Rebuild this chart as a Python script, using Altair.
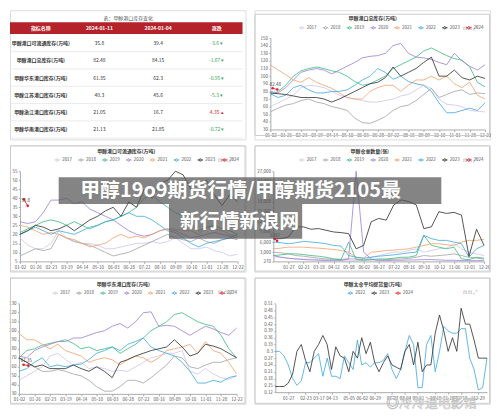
import altair as alt
import pandas as pd

FONT = "Noto Sans CJK SC"

# ---------------- table ----------------
TABLE_TITLE = "表：甲醇港口库存变化"
TABLE_HEADERS = ["指标名称", "2024-01-11", "2024-01-04", "涨跌"]
TABLE_NAMES = ["甲醇港口可流通库存(万吨)", "甲醇港口总库存(万吨)", "甲醇华东港口库存(万吨)",
               "甲醇江苏港口库存(万吨)", "甲醇浙江港口库存(万吨)", "甲醇华南港口库存(万吨)"]
TABLE_0111 = ["35.8", "82.48", "61.35", "40.3", "21.05", "21.13"]
TABLE_0104 = ["39.4", "84.15", "62.3", "45.6", "16.7", "21.85"]
TABLE_CHANGE = [-3.6, -1.67, -0.95, -5.3, 4.35, -0.72]

# ---------------- common ----------------
YEARS = ["2017", "2018", "2019", "2020", "2021", "2022", "2023", "2024"]
COLORS = ["#cdc6ee", "#a3a3a3", "#3dba80", "#9b7fd6", "#f2a06a", "#3ea8e0", "#2d2d2d", "#dd2229"]
X_LABELS_A = ["01-02", "01-26", "02-23", "03-19", "04-14", "05-10", "06-03", "06-28",
              "07-22", "08-16", "09-09", "10-10", "11-01", "11-28", "12-22"]
X_LABELS_B = ["01-27", "02-21", "03-18", "04-12", "05-08", "06-02", "06-27", "07-22",
              "08-16", "09-10", "10-12", "11-06", "12-01", "12-26"]
X_LABELS_C = ["01-27", "02-23", "03-17", "04-13", "05-05", "06-02", "06-29", "07-27",
              "08-24", "09-21", "10-19", "11-16", "12-14", "12-29"]
X_POS_C = [3, 7, 10, 13, 17, 20, 23, 27, 30, 33, 37, 40, 43, 47]

# ---------------- chart 1: 甲醇港口总库存 ----------------
TITLE1 = "甲醇港口总库存(万吨)"
S1 = {
    "2017": [60, 65, 70, 75, 85, 88, 87, 85, 80, 75, 72, 70, 68, 66, 66, 68, 70, 74, 76, 82, 88, 84, 70, 63, 62, 60, 55, 54, 53],
    "2018": [53, 58, 62, 64, 68, 70, 66, 64, 60, 58, 55, 45, 39, 38, 42, 47, 55, 60, 62, 68, 76, 84, 72, 76, 80, 82, 76, 78, 77],
    "2019": [75, 80, 88, 100, 107, 110, 112, 110, 107, 105, 100, 93, 88, 90, 95, 100, 110, 115, 120, 125, 133, 137, 132, 127, 123, 121, 112, 92, 86],
    "2020": [80, 78, 85, 95, 105, 108, 110, 108, 103, 108, 113, 118, 124, 126, 127, 130, 140, 143, 130, 125, 124, 122, 118, 115, 130, 120, 113, 108, 115],
    "2021": [115, 108, 102, 95, 92, 98, 92, 88, 84, 78, 72, 70, 70, 80, 85, 88, 88, 80, 88, 95, 95, 100, 95, 100, 90, 85, 92, 75, 70],
    "2022": [77, 72, 75, 85, 88, 82, 78, 78, 80, 80, 82, 88, 95, 100, 110, 105, 96, 100, 93, 90, 88, 80, 65, 52, 52, 55, 58, 55, 65],
    "2023": [78, 77, 76, 74, 72, 72, 72, 70, 66, 70, 75, 80, 85, 90, 92, 98, 112, 100, 105, 110, 118, 125, 100, 100, 108, 98, 95, 100, 97],
    "2024": [84.15, 82.48],
}
X2024_1 = [0.3, 0.9]

# ---------------- chart 2: 甲醇港口可流通库存 ----------------
TITLE2 = "甲醇港口可流通库存(万吨)"
S2 = {
    "2017": [18, 14, 12, 12, 15, 22, 18, 16, 15, 15, 14, 12, 12, 13, 14, 15, 15, 16, 15, 16, 18, 15, 12, 12, 13, 11, 10, 8, 9],
    "2018": [8, 10, 12, 11, 12, 20, 18, 16, 15, 14, 12, 10, 8, 9, 10, 12, 14, 16, 18, 20, 18, 17, 16, 18, 16, 15, 17, 18, 17],
    "2019": [21, 23, 25, 27, 28, 27, 25, 27, 25, 23, 25, 27, 28, 30, 32, 35, 40, 42, 38, 35, 32, 30, 26, 22, 24, 25, 23, 22, 20],
    "2020": [27, 26, 27, 32, 39, 39, 40, 37, 38, 34, 32, 30, 28, 25, 22, 20, 19, 20, 22, 23, 22, 20, 18, 19, 20, 21, 20, 19, 18],
    "2021": [25, 24, 22, 20, 21, 20, 18, 17, 15, 13, 14, 15, 18, 20, 18, 19, 18, 20, 22, 23, 23, 22, 22, 20, 24, 23, 22, 20, 19],
    "2022": [20, 22, 24, 22, 20, 22, 21, 20, 22, 24, 25, 27, 28, 30, 32, 30, 30, 28, 25, 22, 21, 18, 15, 13, 15, 16, 17, 18, 20],
    "2023": [20, 22, 25, 24, 22, 23, 25, 22, 25, 28, 30, 33, 35, 30, 38, 35, 45, 40, 48, 50, 55, 53, 45, 48, 50, 42, 36, 42, 38],
    "2024": [39.4, 35.8],
}
X2024_2 = [0.5, 1.0]

# ---------------- chart 3: 甲醇仓单数量 ----------------
TITLE3 = "甲醇仓单数量(张)"
S3 = {
    "2017": [1500, 1500, 1200, 1000, 1000, 900, 800, 800, 700, 700, 600, 500, 500, 1500, 2000, 2500, 3000, 3000, 3500, 4000, 3000, 3500, 4000, 4200, 5500, 4000, 3000, 2500, 2000],
    "2018": [3000, 2800, 2500, 2000, 1800, 1500, 1200, 1000, 900, 900, 1000, 1000, 800, 700, 700, 800, 900, 1000, 1200, 1500, 2000, 1800, 2000, 2200, 2500, 2000, 1500, 1200, 1000],
    "2019": [2000, 2200, 2500, 2500, 2300, 2000, 1800, 1500, 1000, 800, 6000, 800, 600, 800, 1000, 1000, 1200, 1500, 1500, 2000, 8000, 5000, 4500, 4000, 4500, 1000, 800, 1500, 1200],
    "2020": [2000, 1500, 1200, 1000, 800, 700, 600, 500, 500, 500, 1000, 27000, 3000, 1000, 500, 500, 600, 600, 700, 700, 800, 800, 700, 600, 600, 500, 500, 500, 500],
    "2021": [4000, 4200, 4500, 4500, 4500, 4300, 4200, 4000, 3800, 3500, 3000, 1500, 1200, 3000, 3200, 3500, 3600, 3800, 4000, 4500, 5000, 5500, 5500, 5200, 5000, 6000, 6500, 6500, 6800],
    "2022": [6000, 5800, 5500, 5800, 6200, 6000, 5800, 5500, 5000, 4800, 2000, 1500, 1200, 1500, 1800, 2000, 2200, 2500, 2800, 3000, 8000, 7000, 6500, 6500, 6000, 5500, 1500, 4000, 5000],
    "2023": [7000, 7000, 7500, 10500, 10500, 9800, 10000, 9500, 9000, 8800, 8500, 4000, 5000, 12000, 13000, 12500, 17000, 18500, 18000, 17000, 10000, 10500, 15000, 14500, 14800, 14000, 1800, 9800, 5000],
    "2024": [6900, 6367],
}
X2024_3 = [0.2, 0.5]

# ---------------- chart 4: 甲醇华东港口库存 ----------------
TITLE4 = "甲醇华东港口库存(万吨)"
S4 = {
    "2017": [45, 50, 55, 60, 72, 75, 68, 62, 65, 58, 60, 58, 55, 56, 55, 60, 65, 70, 72, 75, 75, 78, 55, 52, 58, 52, 48, 46, 50],
    "2018": [70, 65, 60, 55, 55, 57, 55, 52, 50, 45, 38, 33, 33, 38, 45, 45, 42, 48, 55, 62, 72, 70, 60, 58, 62, 65, 65, 68, 70],
    "2019": [70, 78, 80, 84, 86, 88, 90, 86, 80, 82, 78, 80, 82, 75, 80, 85, 92, 100, 105, 110, 118, 120, 115, 110, 107, 105, 95, 80, 70],
    "2020": [72, 70, 78, 82, 85, 88, 88, 92, 92, 95, 98, 100, 105, 108, 103, 110, 120, 121, 105, 106, 105, 100, 95, 100, 105, 102, 98, 95, 103],
    "2021": [97, 90, 90, 85, 80, 85, 78, 75, 72, 65, 68, 70, 68, 62, 68, 72, 70, 65, 70, 78, 80, 82, 85, 75, 88, 78, 75, 65, 52],
    "2022": [55, 58, 65, 70, 60, 62, 60, 62, 63, 68, 75, 78, 82, 78, 85, 88, 92, 82, 78, 75, 72, 65, 55, 42, 42, 45, 43, 48, 50],
    "2023": [70, 65, 60, 62, 58, 58, 58, 62, 58, 55, 60, 55, 48, 65, 68, 72, 75, 78, 80, 82, 90, 82, 72, 75, 85, 83, 80, 75, 70],
    "2024": [62.3, 61.35],
}
X2024_4 = [0.6, 1.2]

# ---------------- chart 5: 甲醇太仓平均提货量 ----------------
TITLE5 = "甲醇太仓平均提货量(万吨)"
YEARS5 = ["2022", "2023", "2024"]
COLORS5 = ["#3ea8e0", "#2d2d2d", "#dd2229"]
S5 = {
    "2022": [0.30, 0.30, 0.28, 0.24, 0.18, 0.15, 0.17, 0.25, 0.25, 0.27, 0.29, 0.19, 0.27, 0.19, 0.19, 0.18, 0.28,
             0.25, 0.22, 0.35, 0.24, 0.25, 0.23, 0.25, 0.25, 0.26, 0.29, 0.22, 0.18, 0.22, 0.30, 0.37, 0.33, 0.14,
             0.14, 0.33, 0.37, 0.21, 0.30, 0.41, 0.39, 0.38, 0.38, 0.40, 0.40, 0.27, 0.22, 0.13, 0.14, 0.27],
    "2023": [0.145, 0.145, 0.145, 0.16, 0.20, 0.30, 0.33, 0.26, 0.21, 0.30, 0.33, 0.37, 0.33, 0.22, 0.32, 0.28, 0.27,
             0.21, 0.30, 0.27, 0.36, 0.29, 0.34, 0.25, 0.21, 0.25, 0.28, 0.24, 0.23, 0.22, 0.30, 0.33, 0.24, 0.34,
             0.21, 0.24, 0.24, 0.38, 0.46, 0.39, 0.30, 0.36, 0.30, 0.49, 0.42, 0.42, 0.35, 0.27, 0.27, 0.27],
}

OVERLAY_LINES = ["甲醇19o9期货行情/甲醇期货2105最", "新行情新浪网"]
WATERMARK = "◎冷冷道电影馆"

PATH = "M-1,0H-0.42M0.42,0H1M0.42,0A0.42,0.42,0,1,1,-0.42,0A0.42,0.42,0,1,1,0.42,0Z"
W = 237


def build_df(series, xs_default, x2024):
    rows = []
    for yr, vals in series.items():
        xs = x2024 if yr == "2024" else xs_default
        for x, v in zip(xs, vals):
            rows.append({"year": yr, "x": x, "v": v})
    return pd.DataFrame(rows)


def deco_text(text, x, y, size=5, color="#333", weight="bold"):
    return alt.Chart(alt.Data(values=[{"t": text}])).mark_text(
        fontSize=size, font=FONT, color=color, fontWeight=weight
    ).encode(x=alt.value(x), y=alt.value(y), text="t:N")


def card(title, df, years, colors, xdom, xrng, xvals, xexpr, ydom, yrng, yvals, yfmt,
         title_xy, legend_xy, tool_y, card_y, H, extra=()):
    xaxis = alt.Axis(values=xvals, labelExpr=xexpr, title=None, grid=False, orient="bottom",
                     offset=-(H - yrng[0]), labelFontSize=4.5, labelColor="#555", labelFont=FONT,
                     domainColor="#aaa", tickColor="#aaa", tickSize=2, labelPadding=1,
                     labelFlush=False, labelOverlap=False)
    yaxis = alt.Axis(values=yvals, format=yfmt, title=None, grid=False, orient="left",
                     offset=-xrng[0], labelFontSize=4.5, labelColor="#555", labelFont=FONT,
                     domainColor="#aaa", tickColor="#aaa", tickSize=1.5, labelPadding=1.5,
                     labelOverlap=False)
    X = alt.X("x:Q", scale=alt.Scale(domain=xdom, range=xrng, nice=False, zero=False), axis=xaxis)
    Y = alt.Y("v:Q", scale=alt.Scale(domain=ydom, range=yrng, nice=False, zero=False), axis=yaxis)
    border = alt.Chart(alt.Data(values=[{}])).mark_rect(
        fill="transparent", stroke="#cdcdcd", strokeWidth=1
    ).encode(x=alt.value(0.5), x2=alt.value(W - 0.5), y=alt.value(card_y[0]), y2=alt.value(card_y[1]))
    legend = alt.Legend(orient="none", legendX=legend_xy[0], legendY=legend_xy[1], direction="horizontal",
                        title=None, labelFontSize=4.5, labelColor="#555", labelFont=FONT,
                        symbolType=PATH, symbolSize=30, symbolStrokeWidth=1, columnPadding=3,
                        labelOffset=1.5, padding=0)
    lines = alt.Chart(df).mark_line(strokeWidth=0.85, opacity=0.95).encode(
        x=X, y=Y,
        color=alt.Color("year:N", scale=alt.Scale(domain=years, range=colors), legend=legend),
    )
    layers = [border, lines]
    d24 = df[df["year"] == "2024"]
    if len(d24):
        pts = alt.Chart(d24).mark_point(filled=True, size=7, color="#dd2229", opacity=1).encode(x=X, y=Y)
        last = d24.tail(1).copy()
        last["lbl"] = last["v"].map(lambda v: f"{v:g}")
        lbl = alt.Chart(last).mark_text(fontSize=4.5, font=FONT, color="#444", dy=-5, dx=-2).encode(
            x=X, y=Y, text="lbl:N")
        layers += [pts, lbl]
    layers.append(deco_text(title, title_xy[0], title_xy[1], size=5))
    layers.append(deco_text("⊡   ⊡   ⤢", 217, tool_y, size=5.5, color="#999", weight="normal"))
    layers += list(extra)
    return alt.layer(*layers).properties(width=W, height=H)


# ---------------- table chart ----------------
GREEN = "#35a55a"
RED = "#dd2229"
trows = []
for r in range(6):
    ch = TABLE_CHANGE[r]
    trows.append({"r": r, "c": 0, "t": TABLE_NAMES[r], "clr": "#333"})
    trows.append({"r": r, "c": 1, "t": TABLE_0111[r], "clr": "#333"})
    trows.append({"r": r, "c": 2, "t": TABLE_0104[r], "clr": "#333"})
    trows.append({"r": r, "c": 3, "t": f"{ch:g} {'▾' if ch < 0 else '▴'}", "clr": GREEN if ch < 0 else RED})
tdf = pd.DataFrame(trows)
hdf = pd.DataFrame({"c": list(range(4)), "t": TABLE_HEADERS})
sdf = pd.DataFrame({"rs": [r + 0.5 for r in range(6)]})

tx = alt.Scale(domain=[0, 3], range=[31, 208])
ty = alt.Scale(domain=[0, 5], range=[33, 120])
TX = alt.X("c:Q", scale=tx, axis=None)
TY = alt.Y("r:Q", scale=ty, axis=None)

t_header = alt.Chart(alt.Data(values=[{}])).mark_rect(fill="#b5232a").encode(
    x=alt.value(0), x2=alt.value(234), y=alt.value(12), y2=alt.value(24))
t_htext = alt.Chart(hdf).mark_text(fontSize=5, font=FONT, color="white", fontWeight="bold").encode(
    x=TX, y=alt.value(18), text="t:N")
t_sep = alt.Chart(sdf).mark_rule(color="#e6e6e6", strokeWidth=0.8).encode(
    y=alt.Y("rs:Q", scale=ty, axis=None), x=alt.value(0), x2=alt.value(234))
t_names = alt.Chart(tdf[tdf["c"] == 0]).mark_text(fontSize=5, font=FONT, fontWeight="bold").encode(
    x=TX, y=TY, text="t:N", color=alt.Color("clr:N", scale=None))
t_vals = alt.Chart(tdf[tdf["c"] > 0]).mark_text(fontSize=5, font=FONT).encode(
    x=TX, y=TY, text="t:N", color=alt.Color("clr:N", scale=None))
t_title = deco_text(TABLE_TITLE, 119, 8, size=5, color="#555", weight="normal")
table = alt.layer(t_title, t_header, t_htext, t_sep, t_names, t_vals).properties(width=W, height=130)

# ---------------- line cards ----------------
idx29 = list(range(29))
exprA = "[" + ",".join(f"'{s}'" for s in X_LABELS_A) + "][datum.value/2]"
exprB = "[" + ",".join(f"'{s}'" for s in X_LABELS_B) + "][datum.value/2-1]"
exprC = ("[" + ",".join(f"'{s}'" for s in X_LABELS_C) + "][indexof(["
         + ",".join(str(p) for p in X_POS_C) + "], datum.value)]")

c1 = card(TITLE1, build_df(S1, idx29, X2024_1), YEARS, COLORS, [0, 28], [16, 232],
          list(range(0, 29, 2)), exprA, [30, 150], [120, 28], list(range(30, 151, 10)), "d",
          (119, 8), (44, 14), 18, (4, 126), 130)

c2 = card(TITLE2, build_df(S2, idx29, X2024_2), YEARS, COLORS, [0, 28], [10, 229],
          list(range(0, 29, 2)), exprA, [5, 55], [116.7, 26], list(range(5, 56, 5)), "d",
          (117, 5.5), (44, 11), 15, (0.5, 126.5), 127)

# overlay title (drawn in the right-hand middle card so it sits above both middle cards)
ov_box1 = alt.Chart(alt.Data(values=[{}])).mark_rect(fill="#555555", opacity=0.72).encode(
    x=alt.value(-197), x2=alt.value(188), y=alt.value(32), y2=alt.value(59))
ov_box2 = alt.Chart(alt.Data(values=[{}])).mark_rect(fill="#555555", opacity=0.72).encode(
    x=alt.value(-86), x2=alt.value(48), y=alt.value(59), y2=alt.value(94))
ov_t1 = alt.Chart(alt.Data(values=[{"t": OVERLAY_LINES[0]}])).mark_text(
    fontSize=20, font=FONT, color="white", fontWeight="bold").encode(
    x=alt.value(-14), y=alt.value(46), text="t:N")
ov_t2 = alt.Chart(alt.Data(values=[{"t": OVERLAY_LINES[1]}])).mark_text(
    fontSize=20, font=FONT, color="white", fontWeight="bold").encode(
    x=alt.value(-15), y=alt.value(77), text="t:N")

c3 = card(TITLE3, build_df(S3, idx29, X2024_3), YEARS, COLORS, [0, 28], [19, 231],
          list(range(2, 29, 2)), exprB, [270, 27000], [116.7, 26],
          [270] + list(range(3000, 27001, 3000)), ",.0f",
          (116, 5.5), (44, 11), 15, (0.5, 126.5), 127,
          extra=(ov_box1, ov_box2, ov_t1, ov_t2))

c4 = card(TITLE4, build_df(S4, idx29, X2024_4), YEARS, COLORS, [0, 28], [9, 228],
          list(range(0, 29, 2)), exprA, [30, 130], [117, 26.3], list(range(30, 131, 10)), "d",
          (114, 6), (42, 12), 15, (0.5, 126.5), 127)

wm = alt.Chart(alt.Data(values=[{"t": WATERMARK}])).mark_text(
    fontSize=13, font=FONT, color="white", opacity=0.85, stroke="#b5b5b5", strokeWidth=0.6).encode(
    x=alt.value(178), y=alt.value(126), text="t:N")
c5 = card(TITLE5, build_df(S5, list(range(50)), []), YEARS5, COLORS5, [0, 49], [21, 234],
          X_POS_C, exprC, [0.12, 0.51], [115.3, 26.3], [round(0.12 + 0.03 * i, 2) for i in range(14)],
          ".2~f", (119, 6), (93, 12), 15, (0.5, 126.5), 127, extra=(wm,))

chart = alt.concat(table, c1, c2, c3, c4, c5, columns=2,
                   spacing={"row": 6, "column": 9}, bounds="flush").resolve_scale(
    color="independent", x="independent", y="independent").resolve_legend(
    color="independent").properties(padding=0).configure_view(stroke=None).configure(font=FONT)

chart.save("out.html", embed_options={"renderer": "svg", "actions": False})
